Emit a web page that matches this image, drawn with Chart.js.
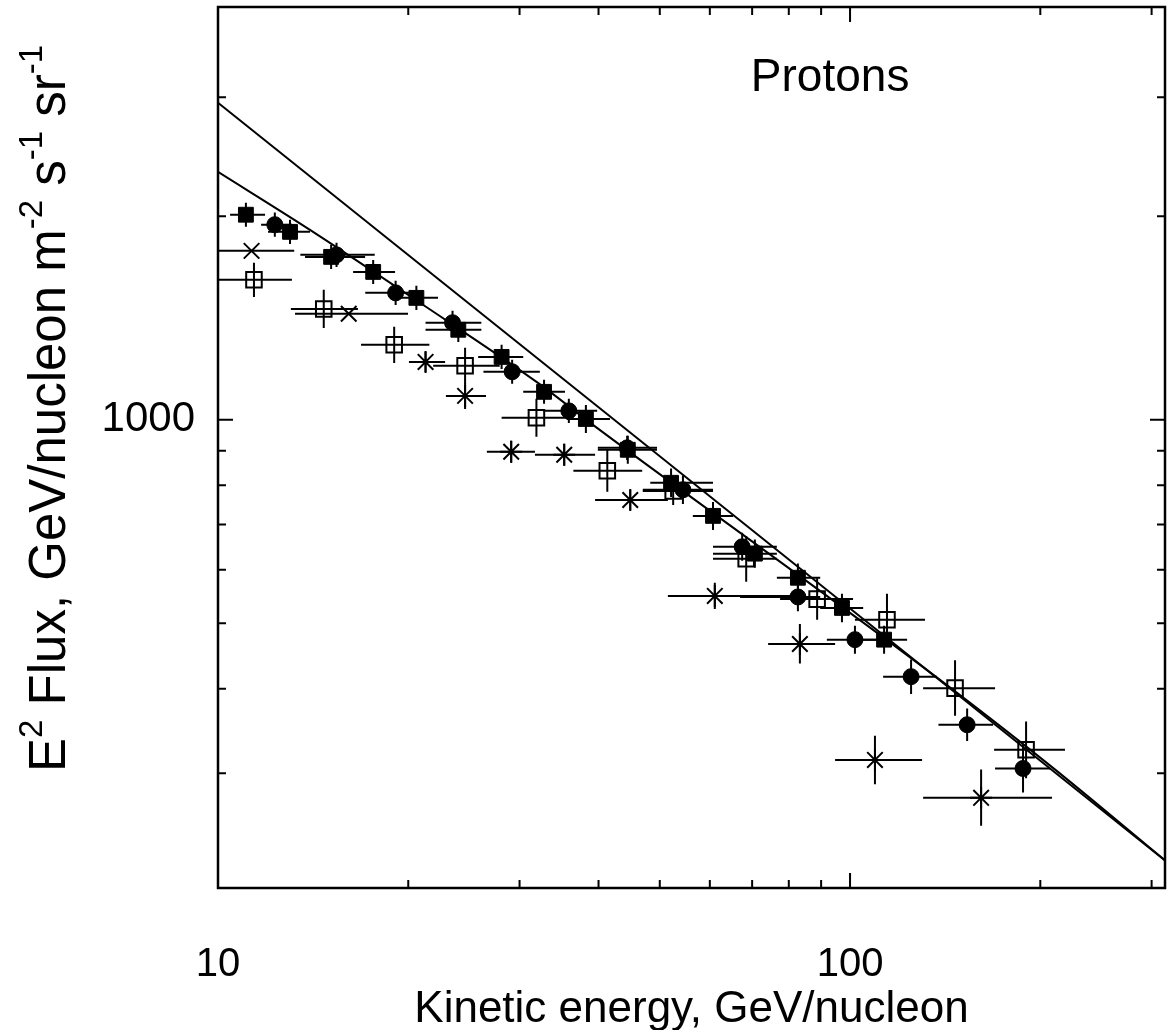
<!DOCTYPE html>
<html>
<head>
<meta charset="utf-8">
<title>Protons</title>
<script src="https://cdn.jsdelivr.net/npm/chart.js@4.4.1/dist/chart.umd.min.js"></script>
<style>
    body { margin: 0; background: #fff; }
    canvas { display: block; }
</style>
</head>
<body>
<canvas id="protonChart" width="1172" height="1030"></canvas>
<script>
const FONT = "'Liberation Sans', Arial, Helvetica, sans-serif";

// filled squares
const sqE = [11.07, 13.0, 15.1, 17.6, 20.6, 24.0, 28.1, 32.8, 38.2, 44.5, 52.1, 60.7, 70.7, 82.7, 97.1, 113.2];
const sqF = [2011, 1897, 1742, 1655, 1515, 1359, 1239, 1100, 1003, 903, 807, 721, 634, 584, 527, 473];
const sqELo = [10.45, 12.0, 13.73, 16.36, 18.72, 21.3, 25.8, 30.4, 35.6, 39.9, 48.3, 56.4, 60.7, 76.6, 89.7, 103.7];
const sqEHi = [11.87, 13.98, 17.09, 19.06, 22.29, 26.1, 30.4, 35.4, 41.7, 49.5, 60.7, 65.3, 76.6, 89.7, 104.9, 123.1];
const sqFLo = [1930, 1820, 1672, 1588, 1454, 1304, 1189, 1056, 956, 861, 769, 687, 604, 557, 502, 451];
const sqFHi = [2095, 1977, 1815, 1724, 1579, 1416, 1291, 1146, 1052, 947, 847, 756, 665, 613, 553, 496];

// filled circles
const circE = [12.3, 15.4, 19.1, 23.5, 29.2, 35.9, 44.4, 54.4, 67.5, 82.7, 101.8, 124.9, 153.2, 187.8];
const circF = [1944, 1754, 1541, 1392, 1178, 1031, 909, 788, 649, 547, 473, 417, 354, 305];
const circELo = [11.7, 13.5, 17.1, 21.3, 26.3, 32.7, 39.9, 47.0, 60.7, 67.0, 91.9, 112.8, 138.0, 169.6];
const circEHi = [13.1, 17.7, 20.2, 26.1, 32.3, 39.8, 49.5, 60.7, 76.6, 89.7, 111.6, 137.3, 168.4, 207.3];
const circFLo = [1866, 1683, 1479, 1336, 1131, 989, 872, 751, 619, 521, 451, 393, 335, 281];
const circFHi = [2026, 1828, 1606, 1450, 1227, 1074, 947, 827, 681, 574, 496, 442, 374, 331];

// open squares
const openE = [11.4, 14.7, 19.0, 24.6, 31.9, 41.3, 52.5, 68.5, 88.7, 114.4, 146.6, 189.9];
const openF = [1611, 1459, 1291, 1202, 1007, 841, 785, 623, 543, 506, 401, 325];
const openELo = [10.0, 13.04, 16.84, 21.9, 28.1, 36.5, 47.0, 60.7, 77.5, 101.8, 130.5, 169.0];
const openEHi = [13.09, 16.65, 21.6, 27.9, 36.5, 46.9, 60.7, 76.6, 101.1, 131.4, 169.6, 218.8];
const openFLo = [1520, 1367, 1214, 1131, 944, 783, 748, 576, 506, 463, 365, 295];
const openFHi = [1708, 1557, 1373, 1278, 1074, 903, 823, 673, 583, 553, 441, 358];

// asterisks (first two have no vertical bar)
const starE = [11.3, 16.1, 21.3, 24.6, 29.1, 35.3, 44.9, 61.1, 83.3, 109.5, 161.2];
const starF = [1778, 1435, 1218, 1085, 897, 888, 761, 549, 466, 314, 276];
const starELo = [10.0, 13.24, 20.05, 22.94, 26.63, 31.73, 39.5, 51.5, 74.2, 94.7, 130.5];
const starEHi = [13.2, 19.98, 22.87, 26.55, 31.73, 39.5, 51.5, 81.2, 94.7, 130.0, 208.7];
const starFLo = [1778, 1435, 1177, 1038, 864, 855, 735, 525, 436, 289, 251];
const starFHi = [1778, 1435, 1261, 1134, 931, 922, 788, 574, 499, 341, 304];

// the two fitted curves
const fitUpperE = [10, 315];
const fitUpperF = [2944, 223];
const fitLowerE = [10, 13.98, 20.87, 32.08, 39.2, 129.1, 207.3, 315];
const fitLowerF = [2327, 1910, 1490, 1134, 983, 434, 308, 223];

const xTicks = [10, 20, 30, 40, 50, 60, 70, 80, 90, 100, 200, 300];
const xLabels = [10, 100];
const yTicks = [300, 400, 500, 600, 700, 800, 900, 1000, 2000, 3000];
const yLabels = [1000];
const majorTicks = [10, 100, 1000];

const xTitle = "Kinetic energy, GeV/nucleon";
const yTitleParts = [["E", false], ["2", true], [" Flux, GeV/nucleon m", false], ["-2", true], [" s", false], ["-1", true], [" sr", false], ["-1", true]];
const panelLabel = "Protons";

const toPoints = (e, f, eLo, eHi, fLo, fHi) => e.map((v, i) => ({
    x: v, y: f[i], xMin: eLo[i], xMax: eHi[i], yMin: fLo[i], yMax: fHi[i]
}));
const toLine = (e, f) => e.map((v, i) => ({ x: v, y: f[i] }));

// keep the plot box where we want it, labels may hang over
const noPadding = s => {
    s.paddingLeft = 0;
    s.paddingRight = 0;
    s.paddingTop = 0;
    s.paddingBottom = 0;
};

const errorBars = {
    id: "errorBars",
    beforeDatasetsDraw(chart) {
        const { ctx, chartArea: a, scales: { x, y } } = chart;
        ctx.save();
        ctx.beginPath();
        ctx.rect(a.left, a.top, a.right - a.left, a.bottom - a.top);
        ctx.clip();
        ctx.strokeStyle = "#000";
        ctx.lineWidth = 2;
        chart.data.datasets.forEach(ds => {
            if (!ds.errorBars) return;
            ds.data.forEach(p => {
                const px = x.getPixelForValue(p.x);
                const py = y.getPixelForValue(p.y);
                ctx.beginPath();
                ctx.moveTo(x.getPixelForValue(p.xMin), py);
                ctx.lineTo(x.getPixelForValue(p.xMax), py);
                if (p.yMin !== p.yMax) {
                    ctx.moveTo(px, y.getPixelForValue(p.yMin));
                    ctx.lineTo(px, y.getPixelForValue(p.yMax));
                }
                ctx.stroke();
            });
        });
        ctx.restore();
    }
};

// box with inward ticks on all four sides
const frame = {
    id: "frame",
    afterDatasetsDraw(chart) {
        const { ctx, chartArea: { left, right, top, bottom }, scales: { x, y } } = chart;
        ctx.save();
        ctx.strokeStyle = "#000";
        ctx.lineWidth = 2.5;
        ctx.strokeRect(left, top, right - left, bottom - top);
        ctx.lineWidth = 2;
        ctx.beginPath();
        xTicks.forEach(v => {
            const px = x.getPixelForValue(v);
            const len = majorTicks.includes(v) ? 15 : 8;
            ctx.moveTo(px, bottom);
            ctx.lineTo(px, bottom - len);
            ctx.moveTo(px, top);
            ctx.lineTo(px, top + len);
        });
        yTicks.forEach(v => {
            const py = y.getPixelForValue(v);
            const len = majorTicks.includes(v) ? 15 : 8;
            ctx.moveTo(left, py);
            ctx.lineTo(left + len, py);
            ctx.moveTo(right, py);
            ctx.lineTo(right - len, py);
        });
        ctx.stroke();
        ctx.restore();
    }
};

const labels = {
    id: "labels",
    afterDraw(chart) {
        const { ctx, scales: { x, y } } = chart;
        ctx.save();
        ctx.fillStyle = "#000";
        ctx.font = "46px " + FONT;
        ctx.textAlign = "center";
        ctx.textBaseline = "middle";
        ctx.fillText(panelLabel, x.getPixelForValue(93), y.getPixelForValue(3200));

        // y title with superscripts, reading upward from the bottom
        const big = 51, small = 33;
        ctx.translate(65, 772);
        ctx.rotate(-Math.PI / 2);
        ctx.textAlign = "left";
        ctx.textBaseline = "alphabetic";
        let pos = 0;
        yTitleParts.forEach(([t, sup]) => {
            ctx.font = (sup ? small : big) + "px " + FONT;
            ctx.fillText(t, pos, sup ? -23 : 0);
            pos += ctx.measureText(t).width;
        });
        ctx.restore();
    }
};

const ctx = document.getElementById("protonChart");

new Chart(ctx, {
    type: "scatter",
    data: {
        datasets: [
            {
                label: "fit 1",
                data: toLine(fitUpperE, fitUpperF),
                showLine: true,
                borderColor: "#000",
                borderWidth: 2,
                pointRadius: 0
            },
            {
                label: "fit 2",
                data: toLine(fitLowerE, fitLowerF),
                showLine: true,
                borderColor: "#000",
                borderWidth: 2,
                pointRadius: 0,
                cubicInterpolationMode: "monotone"
            },
            {
                label: "filled squares",
                data: toPoints(sqE, sqF, sqELo, sqEHi, sqFLo, sqFHi),
                errorBars: true,
                pointStyle: "rect",
                pointRadius: 10.5,
                backgroundColor: "#000",
                borderColor: "#000",
                borderWidth: 1
            },
            {
                label: "filled circles",
                data: toPoints(circE, circF, circELo, circEHi, circFLo, circFHi),
                errorBars: true,
                pointStyle: "circle",
                pointRadius: 8,
                backgroundColor: "#000",
                borderColor: "#000",
                borderWidth: 1
            },
            {
                label: "open squares",
                data: toPoints(openE, openF, openELo, openEHi, openFLo, openFHi),
                errorBars: true,
                pointStyle: "rect",
                pointRadius: 11,
                backgroundColor: "rgba(0,0,0,0)",
                borderColor: "#000",
                borderWidth: 2
            },
            {
                label: "asterisks",
                data: toPoints(starE, starF, starELo, starEHi, starFLo, starFHi),
                errorBars: true,
                pointStyle: c => (c.raw && c.raw.yMin === c.raw.yMax) ? "crossRot" : "star",
                pointRadius: 11,
                borderColor: "#000",
                borderWidth: 2
            }
        ]
    },
    options: {
        responsive: false,
        animation: false,
        layout: { autoPadding: false, padding: { left: 0, right: 7, top: 7, bottom: 0 } },
        plugins: {
            legend: { display: false },
            tooltip: { enabled: false }
        },
        scales: {
            x: {
                type: "logarithmic",
                min: 10,
                max: 315,
                grid: { display: false, drawTicks: false },
                border: { display: false },
                afterBuildTicks: s => { s.ticks = xTicks.map(v => ({ value: v })); },
                afterFit: s => { s.height = 142; noPadding(s); },
                ticks: {
                    callback: v => xLabels.includes(v) ? String(v) : "",
                    font: { size: 40, family: FONT },
                    color: "#000",
                    padding: 53,
                    autoSkip: false,
                    maxRotation: 0,
                    minRotation: 0
                },
                title: {
                    display: true,
                    text: xTitle,
                    font: { size: 44, family: FONT },
                    color: "#000",
                    padding: { top: 0, bottom: -6 }
                }
            },
            y: {
                type: "logarithmic",
                min: 203,
                max: 4080,
                grid: { display: false, drawTicks: false },
                border: { display: false },
                afterBuildTicks: s => { s.ticks = yTicks.map(v => ({ value: v })); },
                afterFit: s => { s.width = 218; noPadding(s); },
                ticks: {
                    callback: v => yLabels.includes(v) ? String(v) : "",
                    font: { size: 42, family: FONT },
                    color: "#000",
                    padding: 23,
                    autoSkip: false
                }
            }
        }
    },
    plugins: [errorBars, frame, labels]
});
</script>
</body>
</html>
